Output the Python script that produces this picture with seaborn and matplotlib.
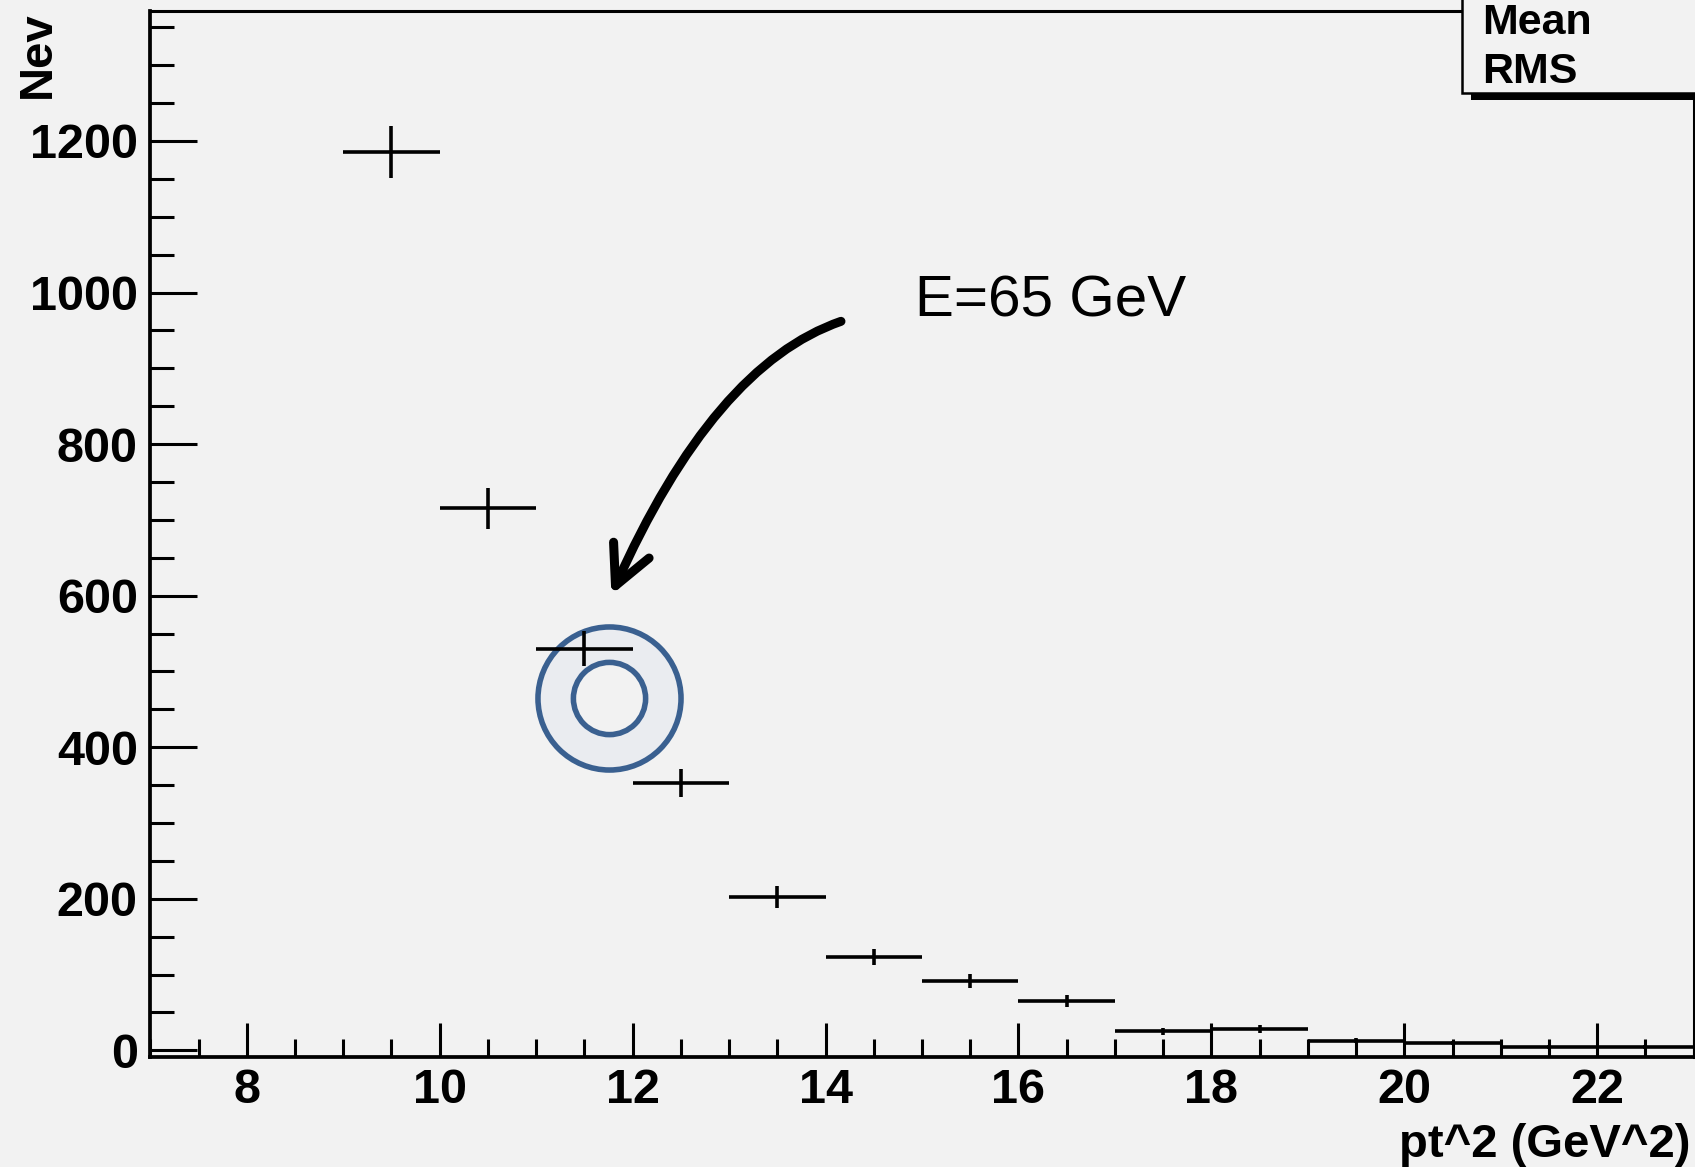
import numpy as np
import pandas as pd
import matplotlib
matplotlib.use("Agg")
import matplotlib.pyplot as plt
import seaborn as sns
from matplotlib.ticker import MultipleLocator, FixedLocator
from matplotlib.patches import Rectangle

# ---------------- data ----------------
bin_low = [9, 10, 11, 12, 13, 14, 15, 16, 17, 18, 19, 20, 21, 22]
bin_width = 1.0
counts = [1185, 715, 530, 353, 202, 123, 91.5, 65, 25, 27.7, 12.8, 9.6, 4.4, 4.4]
x_ticks = [8, 10, 12, 14, 16, 18, 20, 22]
y_ticks = [0, 200, 400, 600, 800, 1000, 1200]
x_label = "pt^2 (GeV^2)"
y_label = "Nev"
note_text = "E=65 GeV"
stats_labels = ["Mean", "RMS"]

# annotation anchors (data coordinates)
note_pos = (14.93, 968)
arrow_start = (14.16, 962)
arrow_end = (11.78, 601)
ring_center = (11.755, 465)

BG = "#f2f2f2"

df = pd.DataFrame({"low": bin_low, "n": counts})
df["center"] = df["low"] + bin_width / 2
df["err"] = np.sqrt(df["n"])

sns.set_theme(style="ticks", rc={"axes.facecolor": BG, "figure.facecolor": BG})
plt.rcParams["font.family"] = ["Liberation Sans", "DejaVu Sans"]

fig = plt.figure(figsize=(16.95, 11.67), dpi=100, facecolor=BG)
ax = fig.add_axes([0.0887, 0.0945, 0.9105, 0.8961])
ax.set_facecolor(BG)

# highlight ring (under the data)
ax.plot([ring_center[0]], [ring_center[1]], marker="o", ms=103, mfc="#eaecf0",
        mec="#3a6090", mew=4.0, ls="none", zorder=2)
ax.plot([ring_center[0]], [ring_center[1]], marker="o", ms=52, mfc=BG,
        mec="#3a6090", mew=4.0, ls="none", zorder=2)

# histogram points with errors
ax.errorbar(df["center"], df["n"], xerr=bin_width / 2, yerr=df["err"], fmt="none",
            ecolor="black", elinewidth=2.6, capsize=0, zorder=3)

ax.set_xlim(7, 23)
ax.set_ylim(-8.5, 1371.6)

ax.xaxis.set_major_locator(FixedLocator(x_ticks))
ax.xaxis.set_minor_locator(MultipleLocator(0.5))
ax.yaxis.set_major_locator(FixedLocator(y_ticks))
ax.yaxis.set_minor_locator(MultipleLocator(50))
ax.set_xticklabels([str(t) for t in x_ticks])
ax.set_yticklabels([str(t) for t in y_ticks])

ax.tick_params(axis="y", which="major", direction="in", length=34, width=2.2,
               left=True, right=False, pad=9, labelsize=35, color="black")
ax.tick_params(axis="y", which="minor", direction="in", length=17, width=2.2,
               left=True, right=False, color="black")
ax.tick_params(axis="x", which="major", direction="in", length=24.5, width=2.2,
               bottom=True, top=False, pad=8, labelsize=35, color="black")
ax.tick_params(axis="x", which="minor", direction="in", length=12.7, width=2.2,
               bottom=True, top=False, color="black")
for lab in ax.get_xticklabels() + ax.get_yticklabels():
    lab.set_fontweight("bold")
    lab.set_color("black")

for side in ["left", "bottom"]:
    ax.spines[side].set_linewidth(2.7)
    ax.spines[side].set_color("black")
for side in ["top", "right"]:
    ax.spines[side].set_visible(True)
    ax.spines[side].set_linewidth(2.2)
    ax.spines[side].set_color("black")

ax.set_xlabel(x_label, loc="right", fontsize=34, fontweight="bold", color="black")
ax.xaxis.set_label_coords(0.9977, -0.0955)
ax.xaxis.label.set_va("baseline")

ax.set_ylabel(y_label, loc="top", fontsize=34, fontweight="bold", color="black")
ax.yaxis.set_label_coords(-0.0650, 1.0)
ax.yaxis.label.set_va("baseline")

# hand-drawn style annotation
ax.text(note_pos[0], note_pos[1], note_text, fontsize=42, color="black",
        ha="left", va="baseline")
ax.annotate("", xy=arrow_end, xytext=arrow_start,
            arrowprops=dict(arrowstyle="->,head_length=0.7,head_width=0.35",
                            lw=6.5, color="black", mutation_scale=40,
                            connectionstyle="angle3,angleA=19,angleB=66",
                            shrinkA=0, shrinkB=0, capstyle="round",
                            joinstyle="round"),
            zorder=4)

# stats box (top right, partly off canvas)
W, H = 1695.0, 1167.0
fig.add_artist(Rectangle((1470.7 / W, (H - 100) / H), 0.2, 7 / H,
                         transform=fig.transFigure, fc="black", ec="none", zorder=5))
fig.add_artist(Rectangle((1461.7 / W, (H - 93) / H), 0.2, 0.2,
                         transform=fig.transFigure, fc=BG, ec="black", lw=1.8, zorder=6))
fig.text(1481.7 / W, (H - 34.3) / H, stats_labels[0], fontsize=31, fontweight="bold",
         ha="left", va="baseline", color="black", zorder=7)
fig.text(1481.7 / W, (H - 83.3) / H, stats_labels[1], fontsize=31, fontweight="bold",
         ha="left", va="baseline", color="black", zorder=7)

fig.savefig("out.png", dpi=100, facecolor=BG)
